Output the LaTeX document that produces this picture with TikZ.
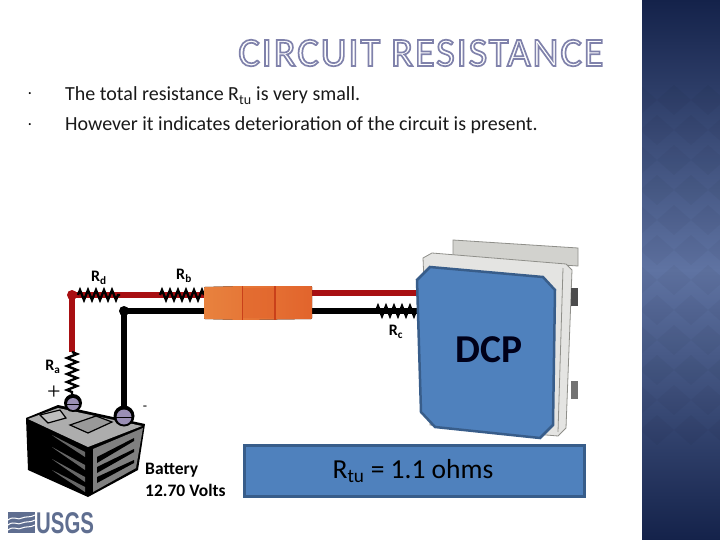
\documentclass[tikz,border=0pt]{standalone}
\usepackage{fontspec}
\usetikzlibrary{decorations.pathmorphing}
\setmainfont{Carlito}
\newfontfamily\titlefont[LetterSpace=4.5]{Carlito}
\newfontfamily\usgsfont[FakeStretch=0.68]{Liberation Sans}
\newfontfamily\thinfont{Liberation Serif}
\definecolor{sidedark}{HTML}{14224A}
\definecolor{sidemid}{HTML}{5F73A2}
\definecolor{wirered}{HTML}{A80F12}
\definecolor{panelblue}{HTML}{4F81BD}
\definecolor{panelline}{HTML}{385D8A}
\definecolor{termpurple}{HTML}{9A8FB5}
\definecolor{usgsblue}{HTML}{5F6E90}
\definecolor{boxgray}{HTML}{D2D2CE}
\definecolor{boxedge}{HTML}{8F8F8A}
\definecolor{conA}{HTML}{E8823E}
\definecolor{conB}{HTML}{E2642C}
\definecolor{conC}{HTML}{C9401A}
\tikzset{
  redwire/.style={draw=wirered,line width=5.5pt},
  blackwire/.style={draw=black,line width=5.5pt},
  resist/.style={draw=black,line width=2.4pt,decorate,decoration={zigzag,segment length=8pt,amplitude=5pt}},
  lab/.style={font=\fontsize{16}{18}\selectfont\bfseries,inner sep=0pt},
  body/.style={font=\fontsize{20}{24}\selectfont,anchor=base west,inner sep=0pt,text=black!90},
  bat/.style={font=\fontsize{17.5}{20}\selectfont\bfseries,anchor=base west,inner sep=0pt},
  bluepanel/.style={fill=panelblue,draw=panelline,line width=2.5pt},
  wdot/.style={circle,inner sep=0pt,minimum size=10pt}
}
\begin{document}
\begin{tikzpicture}[x=1pt,y=-1pt]
\useasboundingbox (0,0) rectangle (720,540);
\fill[white] (0,0) rectangle (720,540);
% sidebar
\begin{scope}
\clip (642,0) rectangle (720,540);
\shade[shading=axis,top color=sidedark,bottom color=sidedark,middle color=sidemid] (642,0) rectangle (720,540);
\foreach \row in {0,...,11}{
  \pgfmathsetmacro{\yy}{100+\row*30}
  \pgfmathsetmacro{\sh}{mod(\row,2)*17}
  \foreach \col in {0,...,3}{
    \pgfmathsetmacro{\xx}{640+\col*34+\sh}
    \fill[black,opacity=.03] (\xx,\yy-15) -- (\xx+17,\yy) -- (\xx,\yy+15) -- (\xx-17,\yy) -- cycle;
  }
}
\end{scope}
% title
\node[inner sep=0pt,anchor=base] (title) at (421,66) {\special{pdf:code q 1 Tr 1.7 w 0.50 0.51 0.67 RG}\titlefont\fontsize{40.5}{44}\selectfont CIRCUIT RESISTANCE\special{pdf:code Q}};
% bullets
\node[inner sep=0pt] (b1) at (30,95) {\fontsize{14}{14}\selectfont ·};
\node[inner sep=0pt] (b2) at (30,126) {\fontsize{14}{14}\selectfont ·};
\node[body] (t1) at (65,101) {The total resistance R\textsubscript{tu} is very small.};
\node[body] (t2) at (65,131) {However it indicates deterioration of the circuit is present.};
% enclosure
\fill[boxgray,draw=boxedge,line width=.8pt] (453,240) -- (578,248) -- (578,266) -- (453,258) -- cycle;
\fill[boxgray!60!white,draw=boxedge,line width=.8pt] (423,258) -- (432,253) -- (566,264) -- (572,270) -- (566,428) -- (558,436) -- (430,425) -- cycle;
\draw[boxedge,line width=.8pt] (563,268) -- (558,432);
\fill[black!70] (571,288) rectangle (578,306);
\fill[black!55] (571,381) rectangle (578,399);
% wires
\coordinate (cornerR) at (72,295);
\coordinate (battP) at (72,395);
\coordinate (raTop) at (72,352);
\coordinate (rdA) at (78,295);
\coordinate (rdB) at (120,295);
\coordinate (rbA) at (160,295);
\coordinate (rbB) at (204,295);
\coordinate (cornerB) at (124,311);
\coordinate (battN) at (124,412);
\coordinate (conL) at (204,311);
\coordinate (conRr) at (312,293);
\coordinate (conRb) at (312,311);
\coordinate (dcpR) at (420,293);
\coordinate (dcpB) at (420,311);
\coordinate (rcA) at (376,311);
\coordinate (rcB) at (418,311);
% battery
\fill[black] (26,418) -- (58,405) -- (145,424) -- (138,470) -- (88,497) -- (28,470) -- cycle;
\fill[black!32] (28,419) -- (58,408) -- (142,426) -- (88,447) -- cycle;
\draw[black,line width=1.2pt,fill=black!40] (70,425) -- (96,416) -- (112,422) -- (88,433) -- cycle;
\draw[black,line width=1.2pt,fill=black!25] (40,415) -- (60,410) -- (66,418) -- (48,423) -- cycle;
\fill[black!50] (93,449) -- (143,428) -- (136,468) -- (93,492) -- cycle;
\foreach \a/\b in {457/438,467/449,477/460}
  \fill[black] (97,\a) -- (134,\b) -- (134,\b+3) -- (97,\a+6) -- cycle;
\foreach \a/\b in {435/452,447/465,459/477,470/487}
  \fill[black!60] (52,\a) -- (85,\b) -- (85,\b+5) -- (56,\a+3) -- cycle;
% wire drawing
\draw[blackwire] (battN) -- (cornerB) -- (conL);
\draw[blackwire] (conRb) -- (dcpB);
\draw[redwire] (raTop) -- (cornerR) -- (rbB);
\draw[redwire] (conRr) -- (dcpR);
\node[wdot,fill=wirered] (dotR) at (cornerR) {};
\node[wdot,fill=black] (dotB) at (cornerB) {};
\draw[resist] (rdA) -- (rdB);
\draw[resist] (rbA) -- (rbB);
\draw[resist] (rcA) -- (rcB);
\draw[resist] (raTop) -- (battP);
% terminals
\node[circle,fill=black,minimum size=18pt,inner sep=0pt] (termP) at (73,403) {};
\node[circle,fill=termpurple,minimum size=12pt,inner sep=0pt] (termPi) at (73,404) {};
\draw[black,line width=1pt] (termPi.west) -- (termPi.east);
\node[circle,fill=black,minimum size=21pt,inner sep=0pt] (termN) at (124,416) {};
\node[circle,fill=termpurple,minimum size=15pt,inner sep=0pt] (termNi) at (124,417) {};
\draw[black,line width=1pt] (termNi.west) -- (termNi.east);
% connector
\fill[rounded corners=1pt,left color=conA,right color=conB] (204,287) -- (242,286) -- (312,286) -- (312,319) -- (242,320) -- (204,319) -- cycle;
\fill[conB,opacity=.5] (243,288) rectangle (274,318);
\fill[conC] (241.5,286) rectangle (243,320);
\fill[conC] (274,286) rectangle (276,320);
% panel
\draw[bluepanel] (417,280) -- (430,267) -- (543,277) -- (555,290) -- (553,425) -- (540,438) -- (435,427) -- (421,412) -- cycle;
\node[font=\fontsize{39.5}{42}\selectfont\bfseries,inner sep=0pt,text=black!90!blue] (dcp) at (489,350) {DCP};
\node[bluepanel,minimum width=340pt,minimum height=51pt,inner sep=0pt,anchor=north west] (rtu) at (243,444) {};
\node[font=\fontsize{27.5}{30}\selectfont,inner sep=0pt] (rtutext) at (413,471) {R\textsubscript{tu} = 1.1 ohms};
% labels
\node[lab] (rd) at (99,278) {R\textsubscript{d}};
\node[lab] (rb) at (184,276) {R\textsubscript{b}};
\node[lab] (rc) at (396,332) {R\textsubscript{c}};
\node[lab] (ra) at (53,367) {R\textsubscript{a}};
\node[font=\thinfont\fontsize{24}{24}\selectfont,inner sep=0pt] (plus) at (54,393) {+};
\node[font=\fontsize{14}{14}\selectfont,inner sep=0pt] (minus) at (145,408) {-};
\node[bat] (b1t) at (145,474) {Battery};
\node[bat] (b2t) at (145,496) {12.70 Volts};
% USGS
\fill[usgsblue] (8,512) rectangle (35,533);
\foreach \d in {518,523,528}
  \draw[white,line width=1pt] (8,\d+2) .. controls (14,\d-3) and (18,\d+3) .. (22,\d) .. controls (26,\d-2) and (30,\d) .. (35,\d-3);
\node[inner sep=0pt,anchor=base west,text=usgsblue] (usgs) at (36,533) {\usgsfont\bfseries\fontsize{30}{30}\selectfont USGS};
\end{tikzpicture}
\end{document}
